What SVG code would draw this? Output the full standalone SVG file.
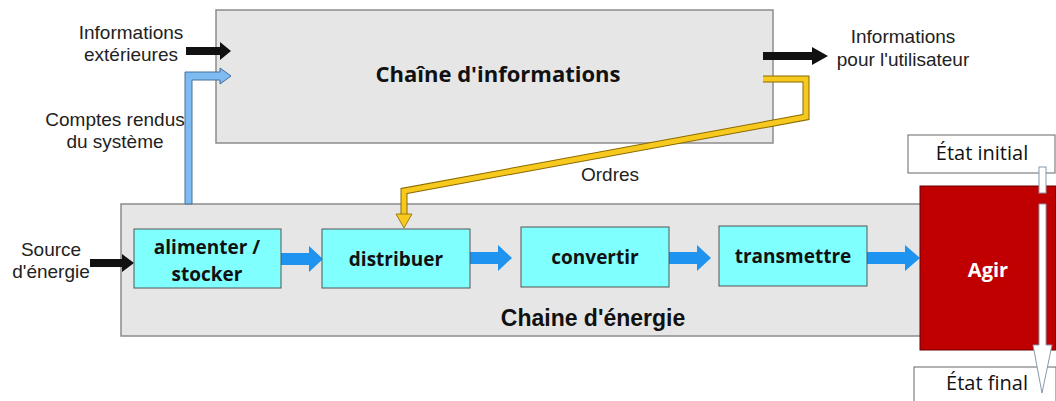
<svg xmlns="http://www.w3.org/2000/svg" width="1056" height="401" viewBox="0 0 1056 401">
  <style>
    .lbl { font-family: "Liberation Sans", Arial, sans-serif; font-size: 19px; fill: #222; text-anchor: middle; }
    .box { font-family: "Open Sans", "Liberation Sans", sans-serif; font-weight: bold; font-size: 19px; fill: #111; text-anchor: middle; }
    .title { font-size: 22px; }
    .chain { fill: #e6e6e6; stroke: #8c8c8c; stroke-width: 1.5; }
    .func { fill: #80ffff; stroke: #555; stroke-width: 1; }
    .flow { fill: #1f93f0; }
    .state { fill: #fff; stroke: #666; stroke-width: 1; }
    .stateTxt { font-family: "Open Sans", "Liberation Sans", sans-serif; font-size: 20px; fill: #111; text-anchor: middle; }
  </style>
  <defs>
    <polygon id="bluearrow" class="flow" points="0,-6 28,-6 28,-13 42,0 28,13 28,6 0,6"/>
  </defs>
  <rect width="1056" height="401" fill="#fff"/>

  <!-- information chain -->
  <g id="info-chain">
    <rect class="chain" x="216" y="10" width="557" height="133"/>
    <text class="box title" x="498" y="82">Chaîne d'informations</text>
  </g>

  <!-- energy chain -->
  <g id="energy-chain">
    <rect class="chain" x="121" y="204" width="805" height="132"/>
    <text x="593" y="326" font-family="Liberation Sans, Arial, sans-serif" font-weight="bold" font-size="23" fill="#111" text-anchor="middle">Chaine d'énergie</text>
  </g>

  <!-- connectors -->
  <g id="connectors">
    <!-- external information -->
    <polygon fill="#111" points="186,47 220,47 220,42 231,51 220,60 220,55 186,55"/>
    <!-- system feedback -->
    <polygon fill="#7dbbf2" stroke="#4a6f96" stroke-width="1" points="185,204 185,72 220,72 220,68 231,76 220,84 220,80 192,80 192,204"/>
    <!-- information to user -->
    <polygon fill="#111" points="763,52 812,52 812,47 828,56 812,65 812,60 763,60"/>
    <!-- orders -->
    <polyline points="763,79 806,79 806,117 404,191 404,216" fill="none" stroke="#8a6a00" stroke-width="7" stroke-linejoin="miter"/>
    <polyline points="763,79 806,79 806,117 404,191 404,216" fill="none" stroke="#f7c81d" stroke-width="5" stroke-linejoin="miter"/>
    <polygon fill="#f7c81d" stroke="#8a6a00" stroke-width="0.8" points="396,214 412,214 404,228"/>
    <!-- energy source -->
    <polygon fill="#111" points="90,259 122,259 122,254 134,263 122,272 122,267 90,267"/>
    <!-- power flow between functions -->
    <use href="#bluearrow" x="281" y="259"/>
    <use href="#bluearrow" x="470" y="258"/>
    <use href="#bluearrow" x="669" y="258"/>
    <polygon class="flow" points="867,252 905,252 905,245 920,258 905,271 905,264 867,264"/>
  </g>

  <!-- power functions -->
  <g id="alimenter">
    <rect class="func" x="134" y="229" width="147" height="59"/>
    <text class="box" x="207" y="254">alimenter /</text>
    <text class="box" x="207" y="281">stocker</text>
  </g>
  <g id="distribuer">
    <rect class="func" x="322" y="229" width="148" height="59"/>
    <text class="box" x="396" y="266">distribuer</text>
  </g>
  <g id="convertir">
    <rect class="func" x="521" y="227" width="148" height="60"/>
    <text class="box" x="595" y="264">convertir</text>
  </g>
  <g id="transmettre">
    <rect class="func" x="719" y="226" width="148" height="60"/>
    <text class="box" x="793" y="263">transmettre</text>
  </g>

  <!-- actuator -->
  <g id="agir">
    <rect x="920" y="186" width="136" height="164" fill="#c00000" stroke="#600" stroke-width="1"/>
    <text x="988" y="277" font-family="Open Sans, Liberation Sans, sans-serif" font-weight="bold" font-size="20" fill="#fff" text-anchor="middle">Agir</text>
  </g>

  <!-- states -->
  <g id="etat-initial">
    <rect class="state" x="908" y="135" width="147" height="38"/>
    <text class="stateTxt" x="982" y="160">État initial</text>
  </g>
  <g id="etat-final">
    <rect class="state" x="914" y="367" width="142" height="40"/>
    <text class="stateTxt" x="987" y="390">État final</text>
  </g>

  <!-- state transition -->
  <g id="transition">
    <rect x="1039" y="167" width="7" height="26" fill="#fff" stroke="#8899aa" stroke-width="1"/>
    <polygon fill="#fff" stroke="#8899aa" stroke-width="1" points="1039,204 1046,204 1046,345 1052,345 1042,393 1033,345 1039,345"/>
  </g>

  <!-- labels -->
  <g id="labels">
    <text class="lbl" x="131" y="39">Informations</text>
    <text class="lbl" x="131" y="61">extérieures</text>
    <text class="lbl" x="115" y="126">Comptes rendus</text>
    <text class="lbl" x="115" y="148">du système</text>
    <text class="lbl" x="903" y="43">Informations</text>
    <text class="lbl" x="903" y="66">pour l'utilisateur</text>
    <text class="lbl" x="610" y="181">Ordres</text>
    <text class="lbl" x="51" y="256">Source</text>
    <text class="lbl" x="51" y="278">d'énergie</text>
  </g>
</svg>
